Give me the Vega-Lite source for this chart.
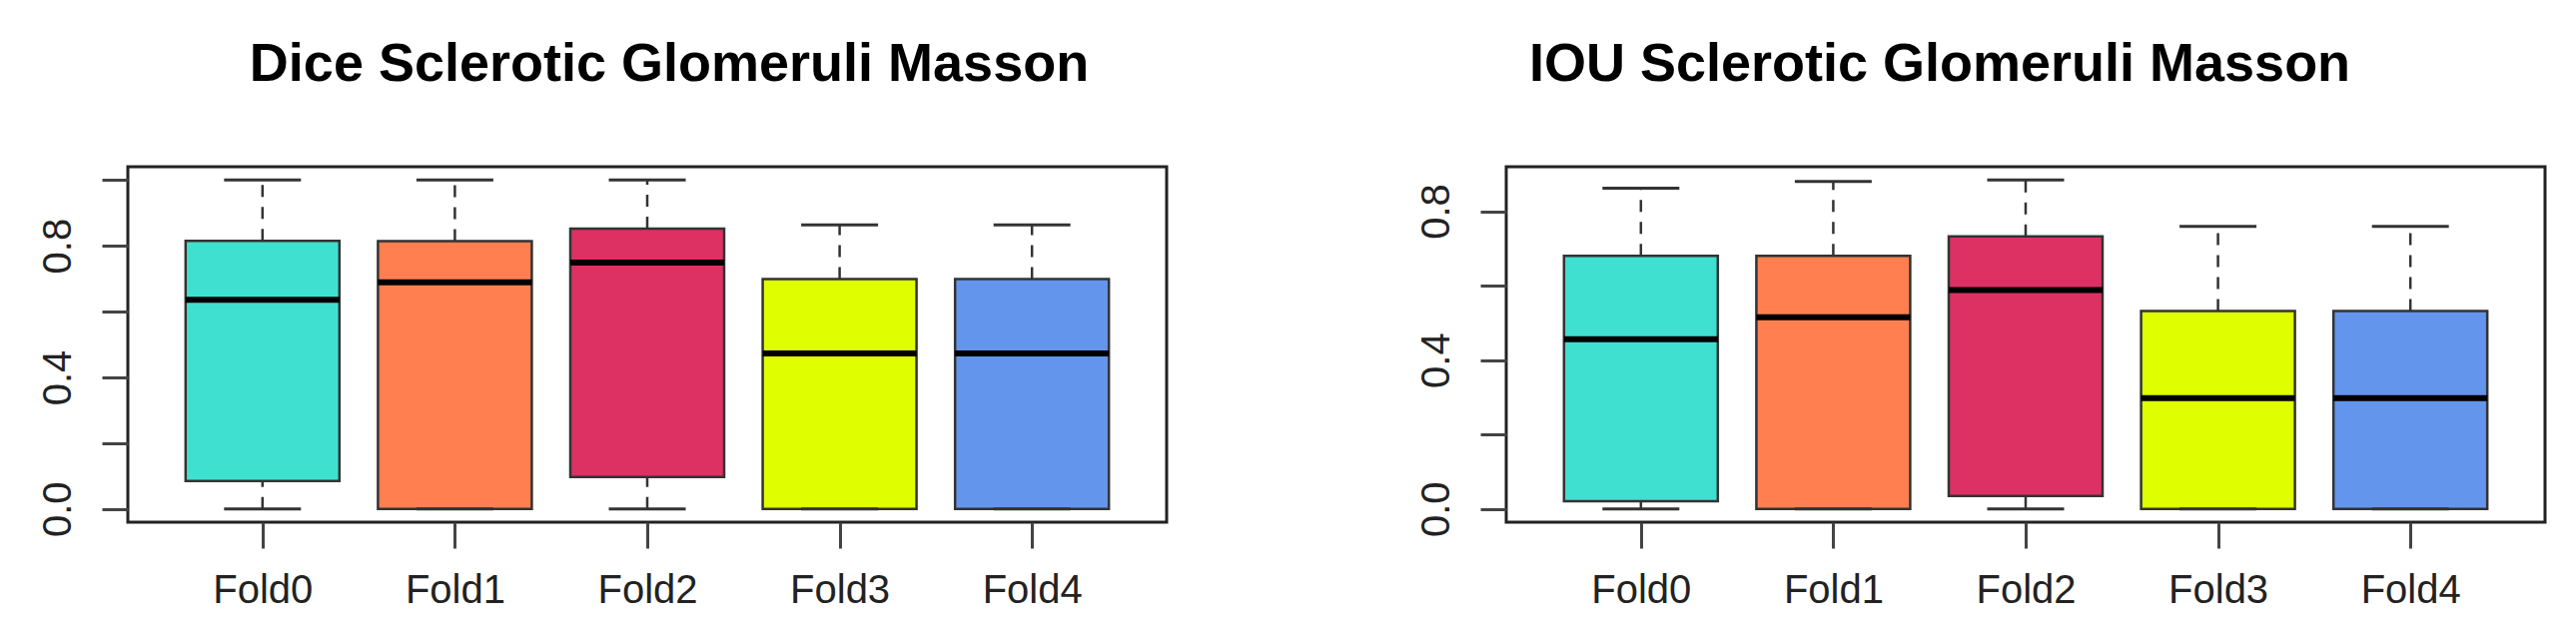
{
  "$schema": "https://vega.github.io/schema/vega-lite/v6.json",
  "autosize": {"type": "pad"},
  "padding": {"left": 36, "top": 36, "right": 0, "bottom": 0},
  "background": "white",
  "bounds": "flush",
  "spacing": 340,
  "config": {
    "font": "Liberation Sans",
    "view": {"stroke": "#222", "strokeWidth": 3},
    "axis": {
      "labelFont": "Liberation Sans",
      "labelFontSize": 40,
      "labelColor": "#222",
      "tickColor": "#444",
      "tickWidth": 3,
      "tickSize": 26,
      "domain": false,
      "grid": false,
      "labelOverlap": false,
      "labelBound": false,
      "labelFlush": false
    },
    "axisX": {"labelAngle": 0, "labelBaseline": "alphabetic", "labelAlign": "center", "labelPadding": 54},
    "axisY": {"labelAngle": 270, "labelBaseline": "alphabetic", "labelAlign": "center", "labelPadding": 32},
    "title": {
      "font": "Liberation Sans",
      "fontSize": 54,
      "fontWeight": "bold",
      "color": "#000",
      "anchor": "middle",
      "frame": "group",
      "baseline": "alphabetic",
      "offset": 75
    }
  },
  "datasets": {
    "dice": [
      {"fold": "Fold0", "low": 0.0, "q1": 0.085, "median": 0.636, "q3": 0.815, "high": 1.0},
      {"fold": "Fold1", "low": 0.0, "q1": 0.0, "median": 0.689, "q3": 0.814, "high": 1.0},
      {"fold": "Fold2", "low": 0.0, "q1": 0.097, "median": 0.749, "q3": 0.852, "high": 1.0},
      {"fold": "Fold3", "low": 0.0, "q1": 0.0, "median": 0.473, "q3": 0.699, "high": 0.863},
      {"fold": "Fold4", "low": 0.0, "q1": 0.0, "median": 0.473, "q3": 0.699, "high": 0.863}
    ],
    "iou": [
      {"fold": "Fold0", "low": 0.0, "q1": 0.021, "median": 0.456, "q3": 0.680, "high": 0.862},
      {"fold": "Fold1", "low": 0.0, "q1": 0.0, "median": 0.515, "q3": 0.680, "high": 0.880},
      {"fold": "Fold2", "low": 0.0, "q1": 0.035, "median": 0.588, "q3": 0.732, "high": 0.884},
      {"fold": "Fold3", "low": 0.0, "q1": 0.0, "median": 0.298, "q3": 0.532, "high": 0.759},
      {"fold": "Fold4", "low": 0.0, "q1": 0.0, "median": 0.298, "q3": 0.532, "high": 0.759}
    ]
  },
  "hconcat": [
    {
      "width": 1040,
      "height": 356,
      "title": {"text": "Dice Sclerotic Glomeruli Masson", "dx": 22},
      "data": {"name": "dice"},
      "encoding": {
        "x": {"field": "fold", "type": "nominal", "scale": {"type": "point", "padding": 0.7}, "axis": {"title": null}}
      },
      "layer": [
        {
          "mark": {"type": "rule", "strokeDash": [12, 10], "strokeWidth": 2.5, "color": "#333"},
          "encoding": {
            "y": {"field": "q3", "type": "quantitative", "scale": {"domain": [-0.04, 1.04], "nice": false, "zero": false}, "axis": {"title": null, "values": [0, 0.2, 0.4, 0.6, 0.8, 1], "labelExpr": "(abs(datum.value - round(datum.value / 0.4) * 0.4) < 0.001 && datum.value < 0.9) ? format(datum.value, '.1f') : ''"}},
            "y2": {"field": "high"}
          }
        },
        {
          "mark": {"type": "rule", "strokeDash": [12, 10], "strokeWidth": 2.5, "color": "#333"},
          "encoding": {
            "y": {"field": "low", "type": "quantitative", "scale": {"domain": [-0.04, 1.04], "nice": false, "zero": false}, "axis": {"title": null, "values": [0, 0.2, 0.4, 0.6, 0.8, 1], "labelExpr": "(abs(datum.value - round(datum.value / 0.4) * 0.4) < 0.001 && datum.value < 0.9) ? format(datum.value, '.1f') : ''"}},
            "y2": {"field": "q1"}
          }
        },
        {
          "mark": {"type": "bar", "width": 154, "stroke": "#333", "strokeWidth": 2.5},
          "encoding": {
            "y": {"field": "q1", "type": "quantitative", "scale": {"domain": [-0.04, 1.04], "nice": false, "zero": false}, "axis": {"title": null, "values": [0, 0.2, 0.4, 0.6, 0.8, 1], "labelExpr": "(abs(datum.value - round(datum.value / 0.4) * 0.4) < 0.001 && datum.value < 0.9) ? format(datum.value, '.1f') : ''"}},
            "y2": {"field": "q3"},
            "color": {"field": "fold", "type": "nominal", "legend": null, "scale": {"domain": ["Fold0", "Fold1", "Fold2", "Fold3", "Fold4"], "range": ["#40E0D0", "#FF7F50", "#DE3163", "#DFFF00", "#6495ED"]}}
          }
        },
        {
          "mark": {"type": "tick", "size": 77, "thickness": 3, "color": "#333", "opacity": 1},
          "encoding": {
            "y": {"field": "high", "type": "quantitative", "scale": {"domain": [-0.04, 1.04], "nice": false, "zero": false}, "axis": {"title": null, "values": [0, 0.2, 0.4, 0.6, 0.8, 1], "labelExpr": "(abs(datum.value - round(datum.value / 0.4) * 0.4) < 0.001 && datum.value < 0.9) ? format(datum.value, '.1f') : ''"}}
          }
        },
        {
          "mark": {"type": "tick", "size": 77, "thickness": 3, "color": "#333", "opacity": 1},
          "encoding": {
            "y": {"field": "low", "type": "quantitative", "scale": {"domain": [-0.04, 1.04], "nice": false, "zero": false}, "axis": {"title": null, "values": [0, 0.2, 0.4, 0.6, 0.8, 1], "labelExpr": "(abs(datum.value - round(datum.value / 0.4) * 0.4) < 0.001 && datum.value < 0.9) ? format(datum.value, '.1f') : ''"}}
          }
        },
        {
          "mark": {"type": "tick", "size": 154, "thickness": 6, "color": "#000", "opacity": 1},
          "encoding": {
            "y": {"field": "median", "type": "quantitative", "scale": {"domain": [-0.04, 1.04], "nice": false, "zero": false}, "axis": {"title": null, "values": [0, 0.2, 0.4, 0.6, 0.8, 1], "labelExpr": "(abs(datum.value - round(datum.value / 0.4) * 0.4) < 0.001 && datum.value < 0.9) ? format(datum.value, '.1f') : ''"}}
          }
        }
      ]
    },
    {
      "width": 1040,
      "height": 356,
      "title": {"text": "IOU Sclerotic Glomeruli Masson", "dx": -86},
      "data": {"name": "iou"},
      "encoding": {
        "x": {"field": "fold", "type": "nominal", "scale": {"type": "point", "padding": 0.7}, "axis": {"title": null}}
      },
      "layer": [
        {
          "mark": {"type": "rule", "strokeDash": [12, 10], "strokeWidth": 2.5, "color": "#333"},
          "encoding": {
            "y": {"field": "q3", "type": "quantitative", "scale": {"domain": [-0.0354, 0.9194], "nice": false, "zero": false}, "axis": {"title": null, "values": [0, 0.2, 0.4, 0.6, 0.8], "labelExpr": "(abs(datum.value - round(datum.value / 0.4) * 0.4) < 0.001 && datum.value < 0.9) ? format(datum.value, '.1f') : ''"}},
            "y2": {"field": "high"}
          }
        },
        {
          "mark": {"type": "rule", "strokeDash": [12, 10], "strokeWidth": 2.5, "color": "#333"},
          "encoding": {
            "y": {"field": "low", "type": "quantitative", "scale": {"domain": [-0.0354, 0.9194], "nice": false, "zero": false}, "axis": {"title": null, "values": [0, 0.2, 0.4, 0.6, 0.8], "labelExpr": "(abs(datum.value - round(datum.value / 0.4) * 0.4) < 0.001 && datum.value < 0.9) ? format(datum.value, '.1f') : ''"}},
            "y2": {"field": "q1"}
          }
        },
        {
          "mark": {"type": "bar", "width": 154, "stroke": "#333", "strokeWidth": 2.5},
          "encoding": {
            "y": {"field": "q1", "type": "quantitative", "scale": {"domain": [-0.0354, 0.9194], "nice": false, "zero": false}, "axis": {"title": null, "values": [0, 0.2, 0.4, 0.6, 0.8], "labelExpr": "(abs(datum.value - round(datum.value / 0.4) * 0.4) < 0.001 && datum.value < 0.9) ? format(datum.value, '.1f') : ''"}},
            "y2": {"field": "q3"},
            "color": {"field": "fold", "type": "nominal", "legend": null, "scale": {"domain": ["Fold0", "Fold1", "Fold2", "Fold3", "Fold4"], "range": ["#40E0D0", "#FF7F50", "#DE3163", "#DFFF00", "#6495ED"]}}
          }
        },
        {
          "mark": {"type": "tick", "size": 77, "thickness": 3, "color": "#333", "opacity": 1},
          "encoding": {
            "y": {"field": "high", "type": "quantitative", "scale": {"domain": [-0.0354, 0.9194], "nice": false, "zero": false}, "axis": {"title": null, "values": [0, 0.2, 0.4, 0.6, 0.8], "labelExpr": "(abs(datum.value - round(datum.value / 0.4) * 0.4) < 0.001 && datum.value < 0.9) ? format(datum.value, '.1f') : ''"}}
          }
        },
        {
          "mark": {"type": "tick", "size": 77, "thickness": 3, "color": "#333", "opacity": 1},
          "encoding": {
            "y": {"field": "low", "type": "quantitative", "scale": {"domain": [-0.0354, 0.9194], "nice": false, "zero": false}, "axis": {"title": null, "values": [0, 0.2, 0.4, 0.6, 0.8], "labelExpr": "(abs(datum.value - round(datum.value / 0.4) * 0.4) < 0.001 && datum.value < 0.9) ? format(datum.value, '.1f') : ''"}}
          }
        },
        {
          "mark": {"type": "tick", "size": 154, "thickness": 6, "color": "#000", "opacity": 1},
          "encoding": {
            "y": {"field": "median", "type": "quantitative", "scale": {"domain": [-0.0354, 0.9194], "nice": false, "zero": false}, "axis": {"title": null, "values": [0, 0.2, 0.4, 0.6, 0.8], "labelExpr": "(abs(datum.value - round(datum.value / 0.4) * 0.4) < 0.001 && datum.value < 0.9) ? format(datum.value, '.1f') : ''"}}
          }
        }
      ]
    }
  ]
}
